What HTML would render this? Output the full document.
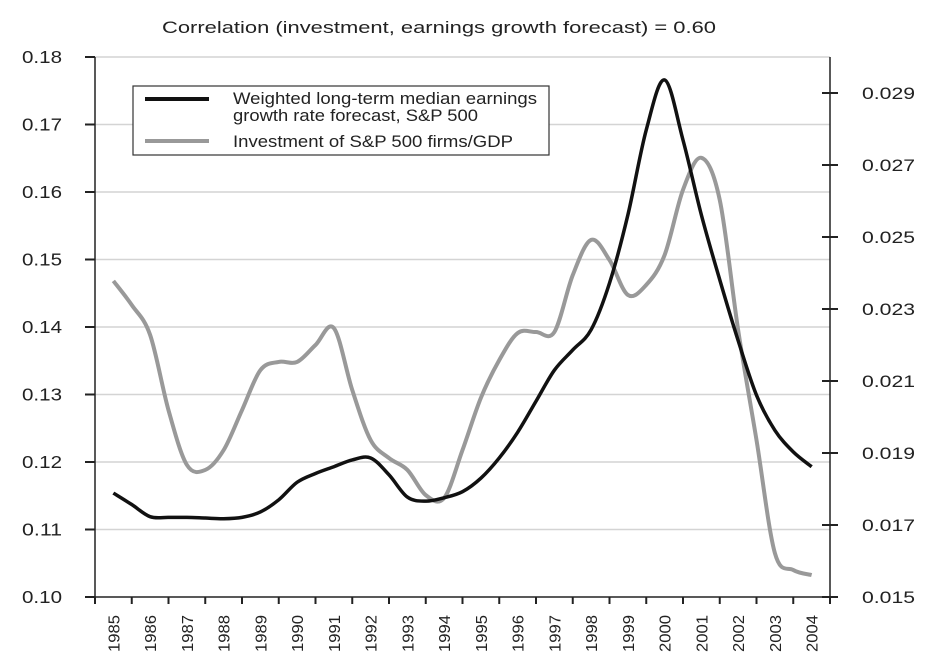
<!DOCTYPE html>
<html><head><meta charset="utf-8"><style>
body{margin:0;background:#fff;}
svg{display:block;font-family:"Liberation Sans",Arial,sans-serif;}
</style></head><body>
<svg id="chart" width="939" height="666" viewBox="0 0 939 666" xmlns="http://www.w3.org/2000/svg">
<text x="162" y="33" font-size="17" textLength="554" lengthAdjust="spacingAndGlyphs" fill="#222">Correlation (investment, earnings growth forecast) = 0.60</text>
<g id="grid"></g><g id="axes"></g><g id="series"></g>
<g>
<rect x="133" y="86" width="416" height="69" fill="#fff" stroke="#333" stroke-width="1.2"/>
<line x1="145" y1="99" x2="209" y2="99" stroke="#111" stroke-width="4"/>
<text x="233" y="104" font-size="16.5" textLength="304" lengthAdjust="spacingAndGlyphs" fill="#222">Weighted long-term median earnings</text>
<text x="233" y="121" font-size="16.5" textLength="245" lengthAdjust="spacingAndGlyphs" fill="#222">growth rate forecast, S&amp;P 500</text>
<line x1="145" y1="141" x2="209" y2="141" stroke="#999" stroke-width="4"/>
<text x="233" y="147" font-size="16.5" textLength="280" lengthAdjust="spacingAndGlyphs" fill="#222">Investment of S&amp;P 500 firms/GDP</text>
</g>
</svg>
<script>
const years=[1985,1985.5,1986,1986.5,1987,1987.5,1988,1988.5,1989,1989.5,1990,1990.5,1991,1991.5,1992,1992.5,1993,1993.5,1994,1994.5,1995,1995.5,1996,1996.5,1997,1997.5,1998,1998.5,1999,1999.5,2000,2000.5,2001,2001.5,2002,2002.5,2003,2003.5,2004];
const earnings=[0.1154,0.1137,0.1119,0.1118,0.1118,0.1117,0.1116,0.1118,0.1126,0.1144,0.1170,0.1183,0.1193,0.1203,0.1206,0.1181,0.1148,0.1142,0.1147,0.1156,0.1176,0.1206,0.1244,0.1290,0.1336,0.1366,0.1396,0.1465,0.1566,0.1692,0.1766,0.1677,0.1566,0.1470,0.1380,0.1299,0.1247,0.1215,0.1193];
const investment=[0.02378,0.02311,0.02228,0.02019,0.01867,0.01853,0.01908,0.02019,0.02130,0.02153,0.02153,0.02200,0.02247,0.02075,0.01936,0.01886,0.01853,0.01783,0.01775,0.01908,0.02053,0.02158,0.02233,0.02236,0.02236,0.02394,0.02492,0.02436,0.02339,0.02367,0.02450,0.02631,0.02720,0.02603,0.02242,0.01936,0.01622,0.01575,0.01561];
const leftTicks=[0.10,0.11,0.12,0.13,0.14,0.15,0.16,0.17,0.18];
const rightTicks=[0.015,0.017,0.019,0.021,0.023,0.025,0.027,0.029];
const yearLabels=[1985,1986,1987,1988,1989,1990,1991,1992,1993,1994,1995,1996,1997,1998,1999,2000,2001,2002,2003,2004];
const X0=95,X1=830,YB=597,YT=57;
const xs=y=>X0+(y-1985+0.5)*(X1-X0)/20;
const yl=v=>YB-(v-0.10)/0.08*(YB-YT);
const yr=v=>YB-(v-0.015)/0.014*(YB-93);
const NS="http://www.w3.org/2000/svg";
function mk(t,a,p){const e=document.createElementNS(NS,t);for(const k in a)e.setAttribute(k,a[k]);p.appendChild(e);return e;}
const grid=document.getElementById('grid'),axes=document.getElementById('axes'),ser=document.getElementById('series');
leftTicks.forEach(v=>{const y=yl(v);
 if(v>0.10){const g=mk('line',{x1:X0,x2:X1,y1:y,y2:y,stroke:'#d4d4d4','stroke-width':1.5},grid);
 
 }
 mk('line',{x1:X0-10,x2:X0,y1:y,y2:y,stroke:'#222','stroke-width':2},axes);
 const t=mk('text',{x:22,y:y+6,'font-size':17.5,textLength:40,lengthAdjust:'spacingAndGlyphs',fill:'#222'},axes);t.textContent=v.toFixed(2);
 
 
});
rightTicks.forEach(v=>{const y=yr(v);
 mk('line',{x1:X1-8,x2:X1+8,y1:y,y2:y,stroke:'#222','stroke-width':2},axes);
 const t=mk('text',{x:862,y:y+6,'font-size':17,textLength:53,lengthAdjust:'spacingAndGlyphs',fill:'#222'},axes);t.textContent=v.toFixed(3);
 
 
});
mk('line',{x1:X0,x2:X0,y1:YT,y2:YB,stroke:'#222','stroke-width':1.5},axes);
mk('line',{x1:X1,x2:X1,y1:YT,y2:YB,stroke:'#222','stroke-width':1.5},axes);
mk('line',{x1:X0-10,x2:X1,y1:YB,y2:YB,stroke:'#222','stroke-width':1.5},axes);
for(let i=0;i<=20;i++){const x=X0+i*(X1-X0)/20;mk('line',{x1:x,x2:x,y1:YB,y2:YB+7,stroke:'#222','stroke-width':2},axes);}
yearLabels.forEach(yv=>{const x=xs(yv);
 const t=mk('text',{x:0,y:0,'font-size':16,'text-anchor':'end',textLength:37,lengthAdjust:'spacingAndGlyphs',fill:'#222',transform:`translate(${x+6},${YB+18}) rotate(-90)`},axes);t.textContent=yv;
 
 
});
function path(vals,fy){const p=years.map((yv,i)=>[xs(yv),fy(vals[i])]);let d=`M${p[0][0]},${p[0][1]}`;
 for(let i=0;i<p.length-1;i++){const a=p[Math.max(0,i-1)],b=p[i],c=p[i+1],e=p[Math.min(p.length-1,i+2)];
 d+=` C${b[0]+(c[0]-a[0])/6},${b[1]+(c[1]-a[1])/6} ${c[0]-(e[0]-b[0])/6},${c[1]-(e[1]-b[1])/6} ${c[0]},${c[1]}`;}return d;}
const g1=mk('path',{d:path(investment,yr),fill:'none',stroke:'#999','stroke-width':4,'stroke-linejoin':'round'},ser);


const g2=mk('path',{d:path(earnings,yl),fill:'none',stroke:'#111','stroke-width':3.5,'stroke-linejoin':'round'},ser);


</script>
</body></html>
